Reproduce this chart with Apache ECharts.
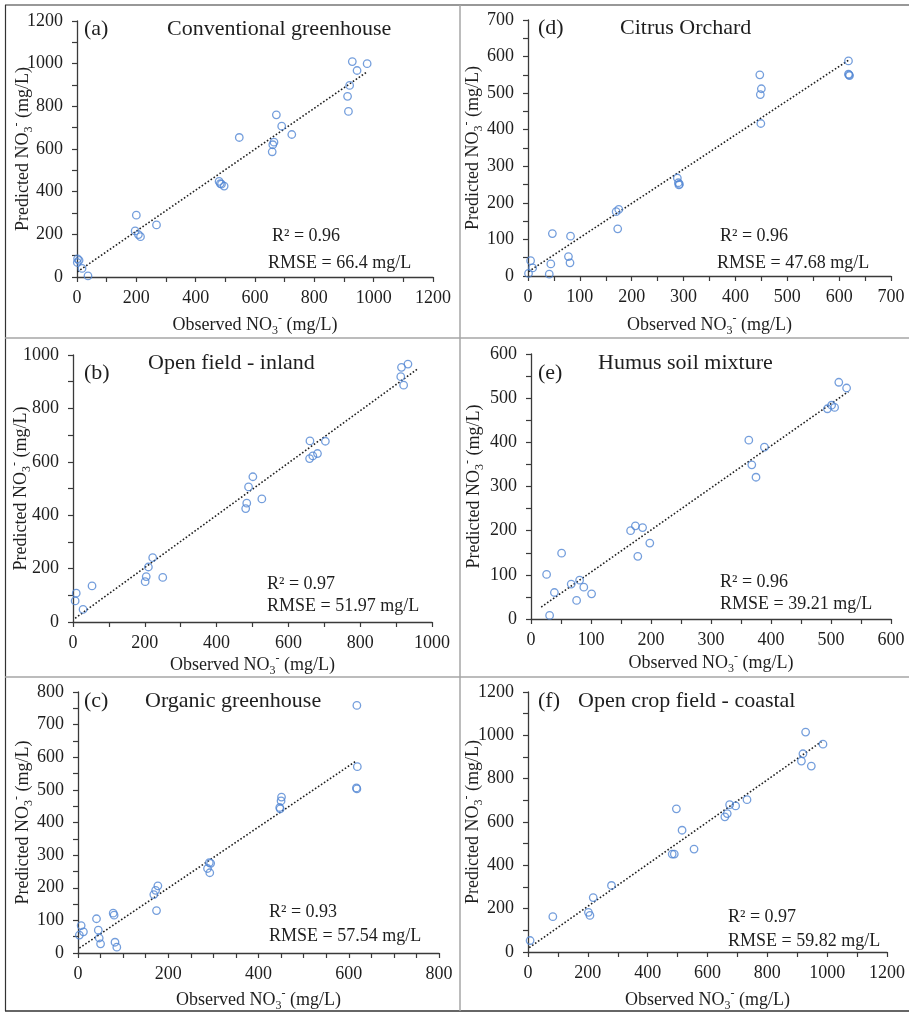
<!DOCTYPE html>
<html>
<head>
<meta charset="utf-8">
<script src="https://cdn.jsdelivr.net/npm/echarts@6/dist/echarts.min.js"></script>
<style>
  html, body { margin: 0; padding: 0; background: #fff; }
  #chart { width: 909px; height: 1013px; }
</style>
</head>
<body>
<div id="chart"></div>
<script>
// (a) Conventional greenhouse
const aObserved  = [928, 978, 944, 919, 912, 915, 672, 690, 724, 547, 664, 660, 658, 479, 483, 487, 496, 200, 196, 207, 214, 268, 2, 7, 1, 17, 37];
const aPredicted = [1010, 1000, 968, 898, 847, 776, 760, 707, 668, 654, 632, 620, 587, 448, 438, 435, 426, 290, 216, 199, 189, 244, 85, 78, 68, 40, 5];
const aTrend = [[1, 24], [978, 962]];

// (b) Open field - inland
const bObserved  = [915, 933, 913, 921, 660, 703, 659, 668, 681, 501, 489, 484, 481, 526, 222, 210, 204, 201, 250, 53, 9, 6, 28];
const bPredicted = [954, 966, 919, 887, 678, 677, 612, 622, 631, 544, 506, 445, 425, 461, 241, 206, 170, 151, 167, 135, 108, 79, 47];
const bTrend = [[6, 14], [958, 946]];

// (c) Organic greenhouse
const cObserved  = [618, 619, 617, 618, 451, 450, 447, 448, 291, 294, 287, 292, 177, 172, 168, 174, 78, 80, 41, 45, 47, 50, 82, 86, 7, 12, 3];
const cPredicted = [759, 571, 506, 503, 478, 466, 446, 442, 277, 275, 259, 246, 206, 192, 179, 130, 122, 116, 105, 70, 46, 28, 33, 18, 84, 65, 55];
const cTrend = [[3, 15], [617, 589]];

// (d) Citrus Orchard
const dObserved  = [618, 618, 620, 619, 447, 450, 448, 449, 288, 290, 292, 291, 170, 175, 173, 47, 82, 78, 81, 44, 41, 5, 9, 1];
const dPredicted = [588, 552, 548, 550, 550, 512, 496, 417, 268, 255, 251, 249, 176, 182, 129, 116, 109, 53, 36, 33, 5, 42, 22, 7];
const dTrend = [[1, 12], [618, 590]];

// (e) Humus soil mixture
const eObserved  = [513, 526, 494, 501, 506, 363, 389, 368, 375, 166, 174, 186, 198, 178, 51, 26, 39, 67, 81, 88, 101, 76, 31];
const ePredicted = [536, 523, 476, 484, 479, 405, 389, 349, 321, 200, 211, 207, 172, 142, 149, 101, 60, 79, 88, 72, 57, 42, 8];
const eTrend = [[17, 27], [529, 515]];

// (f) Open crop field - coastal
const fObserved  = [928, 986, 919, 914, 947, 732, 674, 694, 666, 658, 496, 515, 555, 482, 489, 279, 218, 202, 207, 83, 7];
const fPredicted = [1015, 959, 915, 881, 858, 703, 680, 674, 639, 624, 661, 562, 475, 452, 452, 307, 251, 183, 169, 163, 53];
const fTrend = [[4, 20], [981, 971]];

const panelLetters = ['(a)', '(b)', '(c)', '(d)', '(e)', '(f)'];
const panelTitles = ['Conventional greenhouse', 'Open field - inland', 'Organic greenhouse',
                     'Citrus Orchard', 'Humus soil mixture', 'Open crop field - coastal'];
const r2Values = ['0.96', '0.97', '0.93', '0.96', '0.96', '0.97'];
const rmseValues = ['66.4', '51.97', '57.54', '47.68', '39.21', '59.82'];

// axis ranges: [max, tick step, label step]
const xRanges = [[1200, 100, 200], [1000, 100, 200], [800, 50, 200], [700, 50, 100], [600, 50, 100], [1200, 100, 200]];
const yRanges = [[1200, 100, 200], [1000, 100, 200], [800, 50, 100], [700, 50, 100], [600, 50, 100], [1200, 100, 200]];

const observed = [aObserved, bObserved, cObserved, dObserved, eObserved, fObserved];
const predicted = [aPredicted, bPredicted, cPredicted, dPredicted, ePredicted, fPredicted];
const trends = [aTrend, bTrend, cTrend, dTrend, eTrend, fTrend];

// layout of each plot area
const grids = [
  { left: 77,  top: 21,  width: 356, height: 256 },
  { left: 73,  top: 355, width: 359, height: 267 },
  { left: 78,  top: 692, width: 361, height: 263 },
  { left: 528, top: 20,  width: 363, height: 256 },
  { left: 531, top: 354, width: 360, height: 265 },
  { left: 528, top: 692, width: 359, height: 262 }
];
const xNameGaps = [36, 31, 35, 37, 32, 36];
const yNameGaps = [42, 40, 43, 43, 45, 43];

// text placement in each panel: letter, title, R² line, RMSE line
const textPos = [
  { letter: [84, 29],  title: [167, 29],  r2: [272, 236], rmse: [268, 263] },
  { letter: [84, 373], title: [148, 363], r2: [267, 584], rmse: [267, 606] },
  { letter: [84, 701], title: [145, 701], r2: [269, 912], rmse: [269, 936] },
  { letter: [538, 28], title: [620, 28],  r2: [720, 236], rmse: [717, 263] },
  { letter: [538, 373], title: [598, 363], r2: [720, 582], rmse: [720, 604] },
  { letter: [538, 701], title: [578, 701], r2: [728, 917], rmse: [728, 941] }
];

const FONT = '"Liberation Serif", "Times New Roman", serif';
const AXIS_COLOR = '#3a3a3a';
const TEXT_COLOR = '#1e1e1e';
const MARK_COLOR = '#5186d3';

const nameRich = {
  t: { fontFamily: FONT, fontSize: 18, color: TEXT_COLOR, lineHeight: 24 },
  s: { fontFamily: FONT, fontSize: 12, color: TEXT_COLOR, lineHeight: 12, verticalAlign: 'bottom' },
  p: { fontFamily: FONT, fontSize: 12, color: TEXT_COLOR, lineHeight: 12, verticalAlign: 'top' }
};

function labelFormatter(step) {
  return function (v) { return v % step === 0 ? String(v) : ''; };
}

const xAxes = [], yAxes = [], series = [], graphics = [];

for (let i = 0; i < 6; i++) {
  const [xmax, xtick, xlab] = xRanges[i];
  const [ymax, ytick, ylab] = yRanges[i];
  xAxes.push({
    type: 'value', gridIndex: i, min: 0, max: xmax, interval: xtick,
    axisLine: { show: true, onZero: false, lineStyle: { color: AXIS_COLOR, width: 1.3 } },
    axisTick: { show: true, length: 5, lineStyle: { color: AXIS_COLOR, width: 1.2 } },
    splitLine: { show: false },
    axisLabel: { show: true, color: TEXT_COLOR, fontFamily: FONT, fontSize: 18, margin: 12,
                 formatter: labelFormatter(xlab) },
    name: '{t|Observed NO}{s|3}{p|-}{t| (mg/L)}',
    nameLocation: 'middle', nameGap: xNameGaps[i], nameMoveOverlap: false,
    nameTextStyle: { rich: nameRich }
  });
  yAxes.push({
    type: 'value', gridIndex: i, min: 0, max: ymax, interval: ytick,
    axisLine: { show: true, onZero: false, lineStyle: { color: AXIS_COLOR, width: 1.3 } },
    axisTick: { show: true, length: 5, lineStyle: { color: AXIS_COLOR, width: 1.2 } },
    splitLine: { show: false },
    axisLabel: { show: true, color: TEXT_COLOR, fontFamily: FONT, fontSize: 18, margin: 14,
                 formatter: labelFormatter(ylab) },
    name: '{t|Predicted NO}{s|3}{p|-}{t| (mg/L)}',
    nameLocation: 'middle', nameGap: yNameGaps[i], nameRotate: 90, nameMoveOverlap: false,
    nameTextStyle: { rich: nameRich }
  });
  series.push({
    type: 'line', xAxisIndex: i, yAxisIndex: i,
    data: trends[i], symbol: 'none', silent: true, z: 1,
    lineStyle: { color: '#202020', width: 1.6, type: [1.6, 2.0] }
  });
  series.push({
    type: 'scatter', xAxisIndex: i, yAxisIndex: i, z: 2,
    data: observed[i].map((x, k) => [x, predicted[i][k]]),
    symbol: 'circle', symbolSize: 7.5,
    itemStyle: { color: 'rgba(0,0,0,0)', borderColor: MARK_COLOR, borderWidth: 1.3 }
  });

  const tp = textPos[i];
  graphics.push({ type: 'text', x: tp.letter[0], y: tp.letter[1],
    style: { text: panelLetters[i], font: '22px ' + FONT, fill: TEXT_COLOR, verticalAlign: 'middle' } });
  graphics.push({ type: 'text', x: tp.title[0], y: tp.title[1],
    style: { text: panelTitles[i], font: '22px ' + FONT, fill: TEXT_COLOR, verticalAlign: 'middle' } });
  graphics.push({ type: 'text', x: tp.r2[0], y: tp.r2[1],
    style: { text: 'R\u00b2 = ' + r2Values[i], font: '18px ' + FONT, fill: TEXT_COLOR, verticalAlign: 'middle' } });
  graphics.push({ type: 'text', x: tp.rmse[0], y: tp.rmse[1],
    style: { text: 'RMSE = ' + rmseValues[i] + ' mg/L', font: '18px ' + FONT, fill: TEXT_COLOR, verticalAlign: 'middle' } });
}

// frame around the panels and the separators between them
const frame = [
  { shape: { x1: 5.5, y1: 5, x2: 5.5, y2: 1011 }, stroke: '#333', w: 1.2 },
  { shape: { x1: 5, y1: 5, x2: 909, y2: 5 }, stroke: '#333', w: 1.2 },
  { shape: { x1: 5, y1: 1011, x2: 909, y2: 1011 }, stroke: '#333', w: 1.5 },
  { shape: { x1: 5, y1: 338, x2: 909, y2: 338 }, stroke: '#a6a6a6', w: 1.5 },
  { shape: { x1: 5, y1: 677, x2: 909, y2: 677 }, stroke: '#a6a6a6', w: 1.5 },
  { shape: { x1: 460, y1: 5, x2: 460, y2: 1011 }, stroke: '#a6a6a6', w: 1.5 }
];
frame.forEach(f => graphics.push({ type: 'line', shape: f.shape, silent: true,
  style: { stroke: f.stroke, lineWidth: f.w } }));

const chart = echarts.init(document.getElementById('chart'), null, { renderer: 'canvas' });
chart.setOption({
  animation: false,
  backgroundColor: '#ffffff',
  grid: grids.map(g => Object.assign({ containLabel: false }, g)),
  xAxis: xAxes,
  yAxis: yAxes,
  series: series,
  graphic: graphics
});
</script>
</body>
</html>
